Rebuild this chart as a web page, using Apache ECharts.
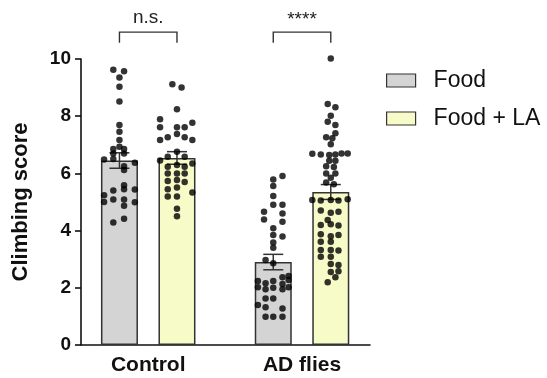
<!DOCTYPE html>
<html>
<head>
<meta charset="utf-8">
<script src="https://cdn.jsdelivr.net/npm/echarts@6/dist/echarts.min.js"></script>
<style>
    html, body { margin: 0; padding: 0; background: #fff; }
    #chart { width: 547px; height: 378px; }
</style>
</head>
<body>
<div id="chart"></div>
<script>
var groups = ['Control', 'AD flies'];
var seriesNames = ['Food', 'Food + LA'];

// bar heights (mean) and SEM
var foodMean = [6.45, 2.9];
var foodSem = [0.27, 0.27];
var laMean = [6.54, 5.35];
var laSem = [0.22, 0.26];

// individual flies, value + horizontal jitter (axis units)
var ctrlFood = [9.62, 9.57, 9.35, 9.03, 8.51, 7.69, 7.46, 7.17, 6.93, 6.85, 6.85, 6.7, 6.7, 6.49, 6.5,
    6.37, 6.25, 6.12, 5.59, 5.4, 5.45, 5.44, 5.24, 5.0, 5.09, 5.09, 4.99, 4.87, 4.41, 4.28];
var ctrlFoodJit = [-0.04, 0.03, 0, 0, 0, 0, 0, 0, 0, -0.04, 0.03, -0.04, 0.03, -0.10, -0.04,
    0.10, 0.03, 0.03, 0.03, -0.04, 0.03, 0.10, -0.10, -0.10, -0.04, 0.03, 0.10, 0.03, 0.03, -0.04];

var ctrlLA = [9.12, 9.0, 8.24, 7.89, 7.77, 7.61, 7.61, 7.61, 7.38, 7.26, 7.26, 7.17, 7.17, 6.76, 6.58,
    6.58, 6.45, 6.35, 6.23, 6.29, 6.23, 6.0, 6.0, 6.0, 5.73, 5.77, 5.7, 5.51, 5.45, 5.33, 5.19, 5.19, 4.76, 4.5];
var ctrlLAJit = [-0.03, 0.03, 0, -0.11, 0.10, -0.11, 0, 0.05, 0, -0.06, 0.05, -0.11, 0.10, 0, -0.06,
    0.05, -0.11, 0.10, -0.06, 0, 0.05, -0.06, 0, 0.05, -0.06, 0, 0.05, 0, -0.06, 0.10, -0.06, 0, 0, 0];

var adFood = [5.91, 5.79, 5.56, 5.21, 4.9, 4.9, 4.66, 4.6, 4.39, 4.31, 4.08, 3.85, 3.79, 3.58, 3.4,
    2.97, 2.86, 2.41, 2.37, 2.24, 2.16, 2.24, 2.13, 2.27, 2.02, 1.95, 2.0, 1.95, 2.02, 1.63, 1.63,
    1.4, 1.32, 1.28, 0.99, 0.99, 0.99];
var adFoodJit = [0.06, 0, 0, 0, 0, 0.06, -0.06, 0.06, -0.06, 0.06, 0, 0, 0.06, 0, 0,
    -0.05, 0, 0.10, 0.06, -0.10, -0.05, 0, 0.06, 0.10, -0.10, -0.05, 0, 0.06, 0.10, -0.05, 0,
    -0.10, -0.05, 0.06, -0.05, 0, 0.06];

var adLA = [10.02, 8.43, 8.31, 8.02, 7.81, 7.69, 7.4, 7.26, 7.23, 7.02, 6.69, 6.66, 6.64, 6.66, 6.7, 6.7,
    6.44, 6.44, 6.25, 6.22, 6.0, 6.0, 5.85, 5.68, 5.62, 5.07, 5.05, 5.07, 5.05, 5.1, 4.7, 4.62, 4.66,
    4.37, 4.2, 4.22, 4.18, 3.87, 3.8, 3.85, 3.61, 3.61, 3.32, 3.32, 3.3, 3.09, 3.09, 2.83, 2.8, 2.55,
    2.58, 2.37, 2.19];
var adLAJit = [0, -0.02, 0.03, 0, -0.02, 0.03, 0.03, -0.03, 0.01, 0, -0.12, -0.065, -0.01, 0.03, 0.07, 0.11,
    -0.01, 0.03, -0.03, 0.02, -0.03, 0.03, 0, -0.03, 0.02, -0.12, -0.065, 0, 0.05, 0.11, -0.065, 0, 0.05,
    -0.02, -0.065, 0, 0.05, -0.065, 0, 0.05, -0.065, 0, -0.065, 0, 0.05, -0.065, 0, 0, 0.05, 0,
    0.05, 0.03, -0.02];

// significance brackets
var sigLabels = ['n.s.', '****'];
var bracketTop = 10.94;
var bracketLeg = 10.57;

var barOffset = [-0.187, 0.187];
var font = 'Liberation Sans, Arial, sans-serif';
var ink = '#111';

function dots(vals, jit, g, k) {
    var out = [];
    for (var i = 0; i < vals.length; i++) {
        out.push([g + barOffset[k] + jit[i], vals[i]]);
    }
    return out;
}

var barData = [[], []];
var errData = [];
for (var g = 0; g < groups.length; g++) {
    barData[0].push([g + barOffset[0], foodMean[g]]);
    barData[1].push([g + barOffset[1], laMean[g]]);
    errData.push([g + barOffset[0], foodMean[g], foodSem[g]]);
    errData.push([g + barOffset[1], laMean[g], laSem[g]]);
}

var bracketData = [];
for (var b = 0; b < groups.length; b++) {
    bracketData.push([b + barOffset[0], b + barOffset[1], bracketTop, bracketLeg, b]);
}

var option = {
    animation: false,
    grid: {left: 81, right: 177, top: 59, bottom: 33},
    legend: {
        data: seriesNames,
        orient: 'vertical',
        left: 381,
        top: 64,
        icon: 'rect',
        itemWidth: 29,
        itemHeight: 13,
        itemGap: 15,
        itemStyle: {borderColor: '#333', borderWidth: 1.2},
        textStyle: {fontFamily: font, fontSize: 23, color: ink, padding: [0, 0, 0, 13]}
    },
    xAxis: {
        type: 'value',
        min: -0.437,
        max: 1.442,
        splitLine: {show: false},
        axisTick: {show: false},
        axisLine: {onZero: false, lineStyle: {color: ink, width: 1.6}},
        axisLabel: {
            customValues: [0, 1],
            margin: 10,
            fontFamily: font, fontSize: 21, fontWeight: 'bold', color: ink,
            formatter: function (v) { return groups[Math.round(v)]; }
        }
    },
    yAxis: {
        type: 'value',
        min: 0,
        max: 10,
        interval: 2,
        name: 'Climbing score',
        nameLocation: 'middle',
        nameGap: 49,
        nameTextStyle: {fontFamily: font, fontSize: 22, fontWeight: 'bold', color: ink},
        splitLine: {show: false},
        axisLine: {show: true, onZero: false, lineStyle: {color: ink, width: 1.6}},
        axisTick: {show: true, length: 6, lineStyle: {color: ink, width: 1.6}},
        axisLabel: {margin: 10, fontFamily: font, fontSize: 19, fontWeight: 'bold', color: ink}
    },
    series: [
        {
            name: seriesNames[0], type: 'bar', data: barData[0], barWidth: 37, barGap: '-100%',
            itemStyle: {color: '#d4d4d4', borderColor: '#333', borderWidth: 1.5}, z: 1
        },
        {
            name: seriesNames[1], type: 'bar', data: barData[1], barWidth: 37, barGap: '-100%',
            itemStyle: {color: '#f6fbc8', borderColor: '#333', borderWidth: 1.5}, z: 1
        },
        {
            type: 'custom', data: errData, z: 2, silent: true,
            renderItem: function (params, api) {
                var x = api.value(0), m = api.value(1), s = api.value(2);
                var top = api.coord([x, m + s]);
                var bot = api.coord([x, m - s]);
                var hw = 10;
                var st = {stroke: '#333', lineWidth: 1.5};
                return {
                    type: 'group', children: [
                        {type: 'line', shape: {x1: top[0], y1: top[1], x2: bot[0], y2: bot[1]}, style: st},
                        {type: 'line', shape: {x1: top[0] - hw, y1: top[1], x2: top[0] + hw, y2: top[1]}, style: st},
                        {type: 'line', shape: {x1: bot[0] - hw, y1: bot[1], x2: bot[0] + hw, y2: bot[1]}, style: st}
                    ]
                };
            }
        },
        {type: 'scatter', data: dots(ctrlFood, ctrlFoodJit, 0, 0), symbolSize: 6.5, itemStyle: {color: '#000'}, clip: false, z: 3},
        {type: 'scatter', data: dots(ctrlLA, ctrlLAJit, 0, 1), symbolSize: 6.5, itemStyle: {color: '#000'}, clip: false, z: 3},
        {type: 'scatter', data: dots(adFood, adFoodJit, 1, 0), symbolSize: 6.5, itemStyle: {color: '#000'}, clip: false, z: 3},
        {type: 'scatter', data: dots(adLA, adLAJit, 1, 1), symbolSize: 6.5, itemStyle: {color: '#000'}, clip: false, z: 3},
        {
            type: 'custom', data: bracketData, z: 4, silent: true, clip: false,
            renderItem: function (params, api) {
                var a = api.coord([api.value(0), api.value(3)]);
                var b = api.coord([api.value(0), api.value(2)]);
                var c = api.coord([api.value(1), api.value(2)]);
                var d = api.coord([api.value(1), api.value(3)]);
                var label = sigLabels[api.value(4)];
                var star = label.indexOf('*') >= 0;
                return {
                    type: 'group', children: [
                        {
                            type: 'polyline',
                            shape: {points: [a, b, c, d]},
                            style: {stroke: '#333', lineWidth: 1.4, fill: null}
                        },
                        {
                            type: 'text',
                            x: (b[0] + c[0]) / 2,
                            y: b[1] - (star ? 3 : 5),
                            style: {
                                text: label, align: 'center', verticalAlign: 'bottom',
                                fontFamily: font, fontSize: star ? 19 : 19, fill: '#222'
                            }
                        }
                    ]
                };
            }
        }
    ]
};

var myChart = echarts.init(document.getElementById('chart'));
myChart.setOption(option);
</script>
</body>
</html>
